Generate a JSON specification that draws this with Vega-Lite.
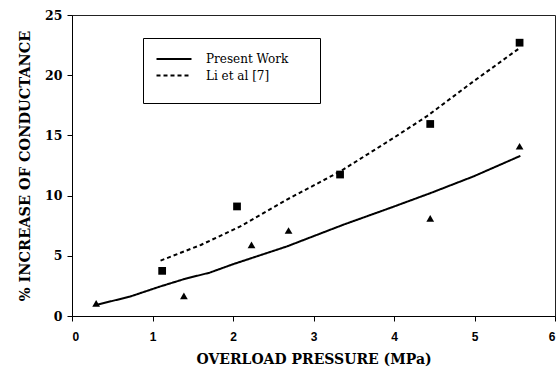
{
  "$schema": "https://vega.github.io/schema/vega-lite/v6.json",
  "width": 483,
  "height": 301,
  "autosize": {"type": "none"},
  "padding": {"left": 72, "top": 15, "right": 5, "bottom": 56},
  "background": "white",
  "config": {
    "view": {"stroke": "#222", "strokeWidth": 1},
    "axis": {"grid": false, "domainColor": "#000", "tickColor": "#000", "tickSize": 5, "domainWidth": 1},
    "legend": {"orient": "none"}
  },
  "datasets": {
    "lines": [
      {"series": "Present Work", "x": 0.3, "y": 0.92},
      {"series": "Present Work", "x": 0.72, "y": 1.61},
      {"series": "Present Work", "x": 1.09, "y": 2.44},
      {"series": "Present Work", "x": 1.4, "y": 3.08},
      {"series": "Present Work", "x": 1.71, "y": 3.6},
      {"series": "Present Work", "x": 2.0, "y": 4.3},
      {"series": "Present Work", "x": 2.67, "y": 5.78},
      {"series": "Present Work", "x": 3.37, "y": 7.58},
      {"series": "Present Work", "x": 3.95, "y": 8.97},
      {"series": "Present Work", "x": 4.45, "y": 10.2},
      {"series": "Present Work", "x": 4.99, "y": 11.6},
      {"series": "Present Work", "x": 5.57, "y": 13.3},
      {"series": "Li et al [7]", "x": 1.1, "y": 4.6},
      {"series": "Li et al [7]", "x": 1.6, "y": 5.9},
      {"series": "Li et al [7]", "x": 2.09, "y": 7.44},
      {"series": "Li et al [7]", "x": 2.67, "y": 9.67},
      {"series": "Li et al [7]", "x": 3.33, "y": 12.0},
      {"series": "Li et al [7]", "x": 3.95, "y": 14.6},
      {"series": "Li et al [7]", "x": 4.41, "y": 16.6},
      {"series": "Li et al [7]", "x": 4.99, "y": 19.5},
      {"series": "Li et al [7]", "x": 5.57, "y": 22.3}
    ],
    "points": [
      {"group": "Li", "x": 1.12, "y": 3.75},
      {"group": "Li", "x": 2.05, "y": 9.1},
      {"group": "Li", "x": 3.33, "y": 11.75},
      {"group": "Li", "x": 4.45, "y": 15.95},
      {"group": "Li", "x": 5.56, "y": 22.7},
      {"group": "Present", "x": 0.3, "y": 1.05},
      {"group": "Present", "x": 1.39, "y": 1.67},
      {"group": "Present", "x": 2.23, "y": 5.9},
      {"group": "Present", "x": 2.69, "y": 7.1},
      {"group": "Present", "x": 4.45, "y": 8.1},
      {"group": "Present", "x": 5.56, "y": 14.1}
    ]
  },
  "layer": [
    {
      "data": {"name": "lines"},
      "mark": {"type": "line", "color": "#000", "strokeWidth": 2},
      "encoding": {
        "x": {
          "field": "x", "type": "quantitative",
          "scale": {"domain": [0, 6], "nice": false},
          "axis": {
            "values": [0, 1, 2, 3, 4, 5, 6],
            "format": "d",
            "title": "OVERLOAD PRESSURE (MPa)",
            "titleFont": "DejaVu Serif", "titleFontSize": 14, "titleFontWeight": "bold", "titleColor": "#000",
            "titlePadding": 10,
            "labelFont": "Liberation Sans", "labelFontSize": 12, "labelFontWeight": "bold", "labelColor": "#000",
            "labelPadding": 10
          }
        },
        "y": {
          "field": "y", "type": "quantitative",
          "scale": {"domain": [0, 25], "nice": false},
          "axis": {
            "values": [0, 5, 10, 15, 20, 25],
            "title": "% INCREASE OF CONDUCTANCE",
            "titleFont": "DejaVu Serif", "titleFontSize": 14.5, "titleFontWeight": "bold", "titleColor": "#000",
            "titlePadding": 12,
            "labelFont": "DejaVu Serif", "labelFontSize": 12.5, "labelFontWeight": "bold", "labelColor": "#000",
            "labelPadding": 5
          }
        },
        "strokeDash": {
          "field": "series", "type": "nominal",
          "scale": {"domain": ["Present Work", "Li et al [7]"], "range": [[1, 0], [4, 3]]},
          "legend": {
            "title": "\u00a0",
            "titleOrient": "right",
            "titlePadding": 21,
            "titleFontSize": 43,
            "titleAnchor": "start",
            "titleBaseline": "top",
            "legendX": 71, "legendY": 23,
            "padding": 11,
            "strokeColor": "#000",
            "fillColor": "#fff",
            "symbolType": "M-2,0H2",
            "symbolSize": 306,
            "symbolOffset": 10,
            "symbolStrokeWidth": 2,
            "symbolStrokeColor": "#000",
            "labelFont": "DejaVu Serif",
            "labelFontSize": 12,
            "labelColor": "#000",
            "labelOffset": 22,
            "rowPadding": 0.5
          }
        }
      }
    },
    {
      "data": {"name": "points"},
      "mark": {"type": "point", "filled": true, "color": "#000", "opacity": 1, "size": 60},
      "encoding": {
        "x": {"field": "x", "type": "quantitative"},
        "y": {"field": "y", "type": "quantitative"},
        "shape": {
          "field": "group", "type": "nominal",
          "scale": {"domain": ["Present", "Li"], "range": ["triangle-up", "square"]},
          "legend": null
        }
      }
    }
  ]
}
